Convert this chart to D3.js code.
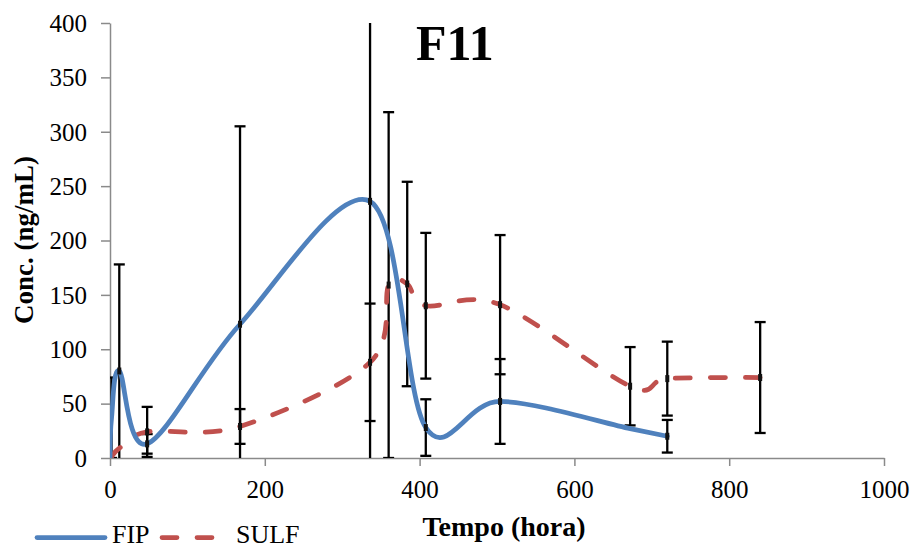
<!DOCTYPE html>
<html><head><meta charset="utf-8">
<script src="https://cdn.jsdelivr.net/npm/d3@7"></script>
<style>
body{margin:0;background:#fff}
svg text{font-family:"Liberation Serif","Times New Roman",serif;fill:#000}
</style>
</head><body>
<svg id="c" width="917" height="550"></svg>
<script>
// ---- data ----
const fipTime = [0, 2, 12, 48, 168, 336, 408, 504, 672, 720];
const fipMean = [0, 37, 80, 13, 123, 236, 28, 52, 27, 20];
const fipErr  = [0, 37, 98, 9, 182, 250, 26, 39, 0, 15];

const sulfTime = [0, 2, 12, 48, 168, 336, 360, 384, 408, 504, 672, 720, 840];
const sulfMean = [0, 1, 9, 24, 29, 88, 159, 160, 140, 141, 66, 73, 74];
const sulfErr  = [0, 0, 0, 23, 16, 54, 159, 94, 67, 64, 36, 34, 51];

const xTicks = [0, 200, 400, 600, 800, 1000];
const yTicks = [0, 50, 100, 150, 200, 250, 300, 350, 400];
const seriesNames = ["FIP", "SULF"];
const chartTitle = "F11";
const xTitle = "Tempo (hora)";
const yTitle = "Conc. (ng/mL)";

// ---- layout ----
const svg = d3.select("#c");
const x = d3.scaleLinear().domain([0, 1000]).range([110, 884]);
const y = d3.scaleLinear().domain([0, 400]).range([458, 23]);
const axisColor = "#8a8a8a";

svg.append("defs").append("clipPath").attr("id", "plot")
  .append("rect").attr("x", 110).attr("y", 23).attr("width", 774).attr("height", 435);

// axes
const gy = svg.append("g").attr("transform", "translate(110,0)")
  .call(d3.axisLeft(y).tickValues(yTicks).tickFormat(d3.format("d")).tickSize(9).tickSizeOuter(0).tickPadding(14));
const gx = svg.append("g").attr("transform", "translate(0,458)")
  .call(d3.axisBottom(x).tickValues(xTicks).tickFormat(d3.format("d")).tickSize(8).tickSizeOuter(0).tickPadding(14));
[gx, gy].forEach(g => {
  g.select(".domain").attr("stroke", axisColor).attr("stroke-width", 1.5);
  g.selectAll(".tick line").attr("stroke", axisColor).attr("stroke-width", 1.5);
  g.selectAll("text").attr("font-size", 25).attr("font-family", "Liberation Serif").attr("fill", "#000");
});
gx.selectAll("text").attr("dy", null).attr("y", 40);
gy.selectAll("text").attr("dy", "0.33em");

// plot group
const plot = svg.append("g").attr("clip-path", "url(#plot)");

function errBars(times, means, errs) {
  const g = plot.append("g").attr("stroke", "#000").attr("stroke-width", 2.3);
  times.forEach((t, i) => {
    const e = errs[i];
    if (!e) return;
    const cx = x(t), top = y(means[i] + e), bot = y(means[i] - e);
    g.append("line").attr("x1", cx).attr("x2", cx).attr("y1", top).attr("y2", bot);
    g.append("line").attr("x1", cx - 5.5).attr("x2", cx + 5.5).attr("y1", top).attr("y2", top);
    g.append("line").attr("x1", cx - 5.5).attr("x2", cx + 5.5).attr("y1", bot).attr("y2", bot);
  });
}
errBars(fipTime, fipMean, fipErr);
errBars(sulfTime, sulfMean, sulfErr);

const line = d3.line().x(d => x(d[0])).y(d => y(d[1])).curve(d3.curveCardinal.tension(0));
const fipPts = fipTime.map((t, i) => [t, fipMean[i]]);
const sulfPts = sulfTime.map((t, i) => [t, sulfMean[i]]);

plot.append("path").attr("d", line(sulfPts)).attr("fill", "none")
  .attr("stroke", "#C0504D").attr("stroke-width", 4.75)
  .attr("stroke-dasharray", "15 20").attr("stroke-linecap", "round");
plot.append("path").attr("d", line(fipPts)).attr("fill", "none")
  .attr("stroke", "#4F81BD").attr("stroke-width", 4.75).attr("stroke-linecap", "round");

// small dark marks at points (not at the very first points)
function marks(times, means, errs) {
  times.forEach((t, i) => {
    if (!errs[i] || t < 5) return;
    plot.append("rect").attr("x", x(t) - 2).attr("y", y(means[i]) - 3.5)
      .attr("width", 4).attr("height", 7).attr("fill", "#111");
  });
}
marks(fipTime, fipMean, fipErr);
marks(sulfTime, sulfMean, sulfErr);

// titles
svg.append("text").attr("x", 416).attr("y", 60).attr("font-size", 50)
  .attr("font-weight", "bold").text(chartTitle);
svg.append("text").attr("x", 504).attr("y", 536).attr("font-size", 28)
  .attr("font-weight", "bold").attr("text-anchor", "middle").text(xTitle);
svg.append("text").attr("transform", "translate(33,240) rotate(-90)")
  .attr("font-size", 27).attr("font-weight", "bold").attr("text-anchor", "middle").text(yTitle);

// legend
const lg = svg.append("g");
lg.append("line").attr("x1", 37).attr("x2", 105).attr("y1", 537.5).attr("y2", 537.5)
  .attr("stroke", "#4F81BD").attr("stroke-width", 4.75).attr("stroke-linecap", "round");
lg.append("text").attr("x", 112).attr("y", 543).attr("font-size", 26).text(seriesNames[0]);
lg.append("line").attr("x1", 162).attr("x2", 216).attr("y1", 537.5).attr("y2", 537.5)
  .attr("stroke", "#C0504D").attr("stroke-width", 4.75)
  .attr("stroke-dasharray", "15 20").attr("stroke-linecap", "round");
lg.append("text").attr("x", 236).attr("y", 543).attr("font-size", 26).text(seriesNames[1]);
</script>
</body></html>
